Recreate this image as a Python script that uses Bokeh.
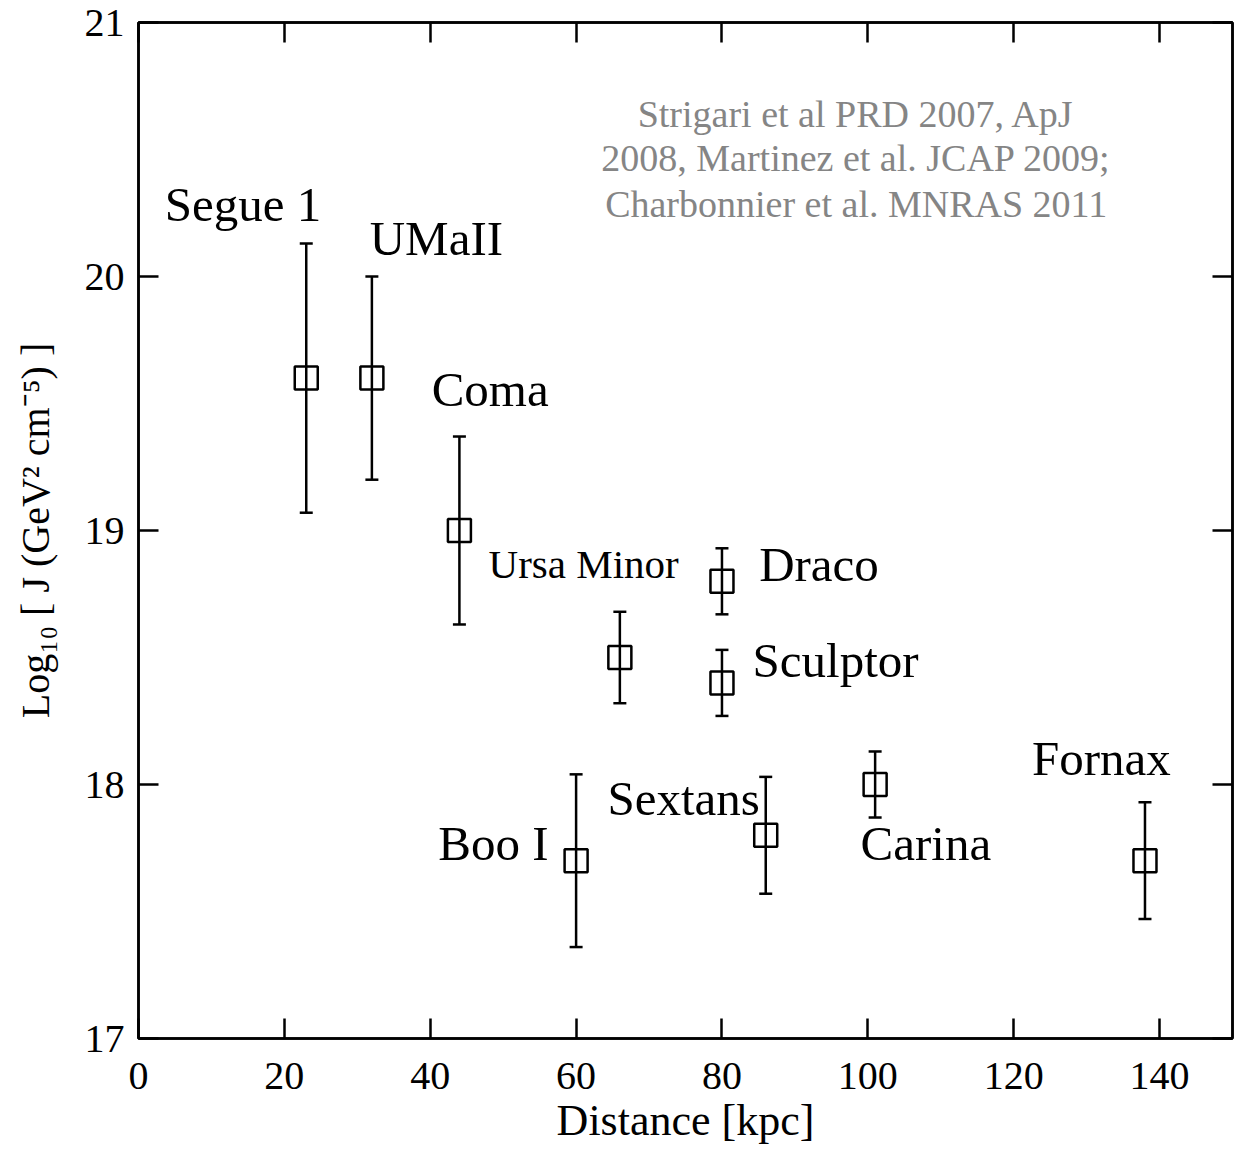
from bokeh.plotting import figure
from bokeh.models import (ColumnDataSource, Whisker, TeeHead, LinearAxis,
                          FixedTicker, Range1d)
from bokeh.core.properties import value, field
from bokeh.embed import file_html
from bokeh.resources import INLINE

# ---------------- data ----------------
names = ["Segue 1", "UMaII", "Coma", "Ursa Minor", "Draco", "Sculptor",
         "Boo I", "Sextans", "Carina", "Fornax"]
distance = [23, 32, 44, 66, 80, 80, 60, 86, 101, 138]
logJ = [19.60, 19.60, 19.00, 18.50, 18.80, 18.40, 17.70, 17.80, 18.00, 17.70]
logJ_err = [0.53, 0.40, 0.37, 0.18, 0.13, 0.13, 0.34, 0.23, 0.13, 0.23]

x_ticks = [0, 20, 40, 60, 80, 100, 120, 140]
y_ticks = [17, 18, 19, 20, 21]
y_tick_labels = ["17", "18", "19", "20", "21"]

citation_lines = ["Strigari et al PRD 2007, ApJ",
                  "2008, Martinez et al. JCAP 2009;",
                  "Charbonnier et al. MNRAS 2011"]

# ---------------- layout of annotations (left edge / vertical middle) ----------------
label_x = [3.6, 31.7, 40.2, 48.0, 85.1, 84.2, 41.1, 64.3, 99.0, 122.5]
label_y = [20.285, 20.148, 19.556, 18.870, 18.867, 18.487, 17.769, 17.944, 17.768, 18.103]
label_size = ["49px", "49px", "49px", "41px", "49px", "49px", "49px", "49px", "49px", "49px"]
cit_x = [98.4, 98.4, 98.4]
cit_y = [20.640, 20.466, 20.287]

FONT = "Liberation Serif"
LW = 2.5
W, H = 1249, 1149
B_LEFT, B_RIGHT, B_TOP, B_BOTTOM = 138, 17, 22, 111

upper = [v + e for v, e in zip(logJ, logJ_err)]
lower = [v - e for v, e in zip(logJ, logJ_err)]
src = ColumnDataSource(dict(x=distance, y=logJ, upper=upper, lower=lower))

p = figure(width=W, height=H, output_backend="svg", toolbar_location=None,
           x_range=Range1d(0, 150), y_range=Range1d(17, 21),
           x_axis_type=None, y_axis_type=None,
           min_border_left=B_LEFT, min_border_right=B_RIGHT, min_border_top=B_TOP,
           min_border_bottom=B_BOTTOM)
p.grid.visible = False
p.outline_line_color = "black"
p.outline_line_width = LW
p.background_fill_color = "white"
p.border_fill_color = "white"

bottom_ax = LinearAxis(ticker=FixedTicker(ticks=x_ticks), axis_label="Distance [kpc]")
top_ax = LinearAxis(ticker=FixedTicker(ticks=x_ticks))
left_ax = LinearAxis(ticker=FixedTicker(ticks=y_ticks),
                     axis_label="Log\u2081\u2080 [ J (GeV\u00b2 cm\u207b\u2075) ]")
right_ax = LinearAxis(ticker=FixedTicker(ticks=y_ticks))
p.add_layout(bottom_ax, "below")
p.add_layout(top_ax, "above")
p.add_layout(left_ax, "left")
p.add_layout(right_ax, "right")

for ax in [bottom_ax, left_ax, top_ax, right_ax]:
    ax.major_tick_in = 20
    ax.major_tick_out = 0
    ax.minor_tick_line_color = None
    ax.major_tick_line_width = LW
    ax.axis_line_width = LW
    ax.major_tick_line_color = "black"
    ax.axis_line_color = "black"
    ax.major_label_text_font = FONT
    ax.major_label_text_font_size = "40px"
    ax.major_label_text_color = "black"
    ax.axis_label_text_font = FONT
    ax.axis_label_text_font_style = "normal"
    ax.axis_label_text_color = "black"

top_ax.major_label_overrides = {t: "" for t in x_ticks}
top_ax.major_label_standoff = 0
right_ax.major_label_overrides = {t: "" for t in y_ticks}
right_ax.major_label_standoff = 0

bottom_ax.major_label_standoff = 24
bottom_ax.axis_label_standoff = 4
bottom_ax.axis_label_text_font_size = "44px"

left_ax.major_label_standoff = 14
left_ax.axis_label_standoff = 24
left_ax.axis_label_text_font_size = "40px"
left_ax.major_label_overrides = {t: s for t, s in zip(y_ticks, y_tick_labels)}

# error bars
p.add_layout(Whisker(base="x", upper="upper", lower="lower", source=src,
                     dimension="height", line_width=LW, line_color="black",
                     upper_head=TeeHead(size=13, line_width=LW, line_color="black"),
                     lower_head=TeeHead(size=13, line_width=LW, line_color="black")))

p.scatter("x", "y", source=src, marker="square", size=23,
          fill_color=None, line_color="black", line_width=LW)

lab_src = ColumnDataSource(dict(x=label_x, y=label_y, text=names, size=label_size))
p.text(x="x", y="y", text="text", source=lab_src,
       text_font=value(FONT), text_font_size=field("size"),
       text_align="left", text_baseline="middle", text_color="black")

cit_src = ColumnDataSource(dict(x=cit_x, y=cit_y, text=citation_lines))
p.text(x="x", y="y", text="text", source=cit_src,
       text_font=value(FONT), text_font_size="38px",
       text_align="center", text_baseline="middle", text_color="#858585")

open("out.html", "w").write(file_html(p, INLINE))
